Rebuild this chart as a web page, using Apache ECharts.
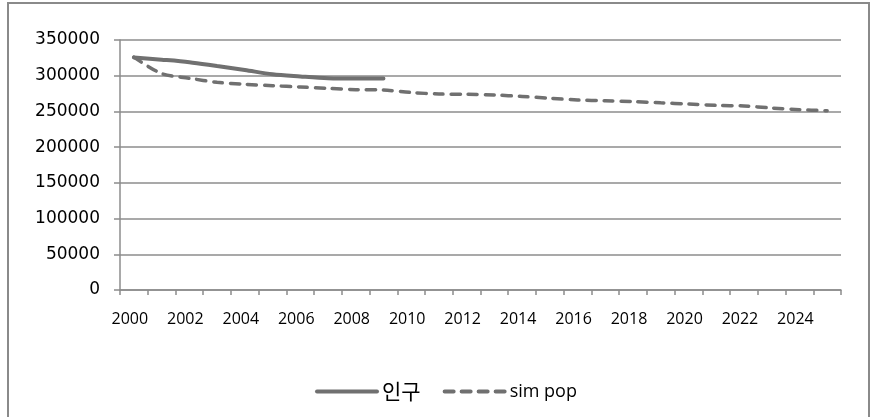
<!DOCTYPE html>
<html>
<head>
<meta charset="utf-8">
<script src="https://cdn.jsdelivr.net/npm/echarts@6/dist/echarts.min.js"></script>
<style>
  html, body { margin: 0; padding: 0; background: #fff; }
  #chart { width: 873px; height: 417px; }
</style>
</head>
<body>
<div id="chart"></div>
<script>
// Years on the category axis
const years = ['2000','2001','2002','2003','2004','2005','2006','2007','2008','2009',
  '2010','2011','2012','2013','2014','2015','2016','2017','2018','2019',
  '2020','2021','2022','2023','2024','2025'];

// Observed population (2000-2009)
const population = [325500, 322500, 319000, 313500, 308000, 302000, 299000, 296500, 296000, 296000];

// Simulated population (2000-2025)
const simPop = [326000, 303000, 296500, 290700, 288000, 286000, 284200, 282300, 280500, 280000,
  276500, 274400, 274000, 273000, 271000, 268500, 266000, 265000, 263700, 262000,
  260400, 258500, 257600, 254800, 252500, 251000];

const seriesNames = ['인구', 'sim pop'];

const gray = '#707070';
const axisGray = '#8c8c8c';

const chart = echarts.init(document.getElementById('chart'));
chart.setOption({
  animation: false,
  backgroundColor: '#fff',
  graphic: [{
    type: 'rect',
    shape: { x: 8, y: 3, width: 861, height: 420 },
    style: { fill: 'none', stroke: '#8a8a8a', lineWidth: 2 },
    silent: true
  }],
  grid: { left: 120, right: 32, top: 40, bottom: 127 },
  xAxis: {
    type: 'category',
    data: years,
    boundaryGap: true,
    axisLine: { lineStyle: { color: axisGray, width: 1.5 } },
    axisTick: { show: true, interval: 0, length: 5, lineStyle: { color: axisGray, width: 1.5 } },
    axisLabel: { interval: 1, margin: 21, color: '#000', fontFamily: 'Open Sans', fontSize: 16,
      padding: [0, 8, 0, 0] }
  },
  yAxis: {
    type: 'value',
    min: 0,
    max: 350000,
    interval: 50000,
    axisLine: { show: true, lineStyle: { color: axisGray, width: 1.5 } },
    axisTick: { show: true, length: 6, lineStyle: { color: axisGray, width: 1.5 } },
    splitLine: { lineStyle: { color: axisGray, width: 1.5 } },
    axisLabel: { margin: 20, color: '#000', fontFamily: 'DejaVu Sans', fontSize: 17,
      formatter: v => String(v) }
  },
  legend: {
    top: 376,
    left: 310,
    itemWidth: 60,
    itemHeight: 10,
    itemGap: 22,
    itemStyle: { opacity: 0 },
    lineStyle: { width: 4 },
    textStyle: { color: '#000', fontFamily: 'Open Sans', fontSize: 17 },
    data: [
      { name: seriesNames[0], textStyle: { fontFamily: 'Noto Sans CJK KR', fontSize: 21 } },
      { name: seriesNames[1], textStyle: { fontFamily: 'Open Sans', fontSize: 18 } }
    ]
  },
  series: [
    {
      name: seriesNames[0],
      type: 'line',
      data: population,
      symbol: 'none',
      smooth: 0.3,
      lineStyle: { color: gray, width: 4, cap: 'round' },
      itemStyle: { color: gray }
    },
    {
      name: seriesNames[1],
      type: 'line',
      data: simPop,
      symbol: 'none',
      smooth: 0.3,
      lineStyle: { color: gray, width: 3.5, type: [9, 8], cap: 'round' },
      itemStyle: { color: gray }
    }
  ]
});
</script>
</body>
</html>
